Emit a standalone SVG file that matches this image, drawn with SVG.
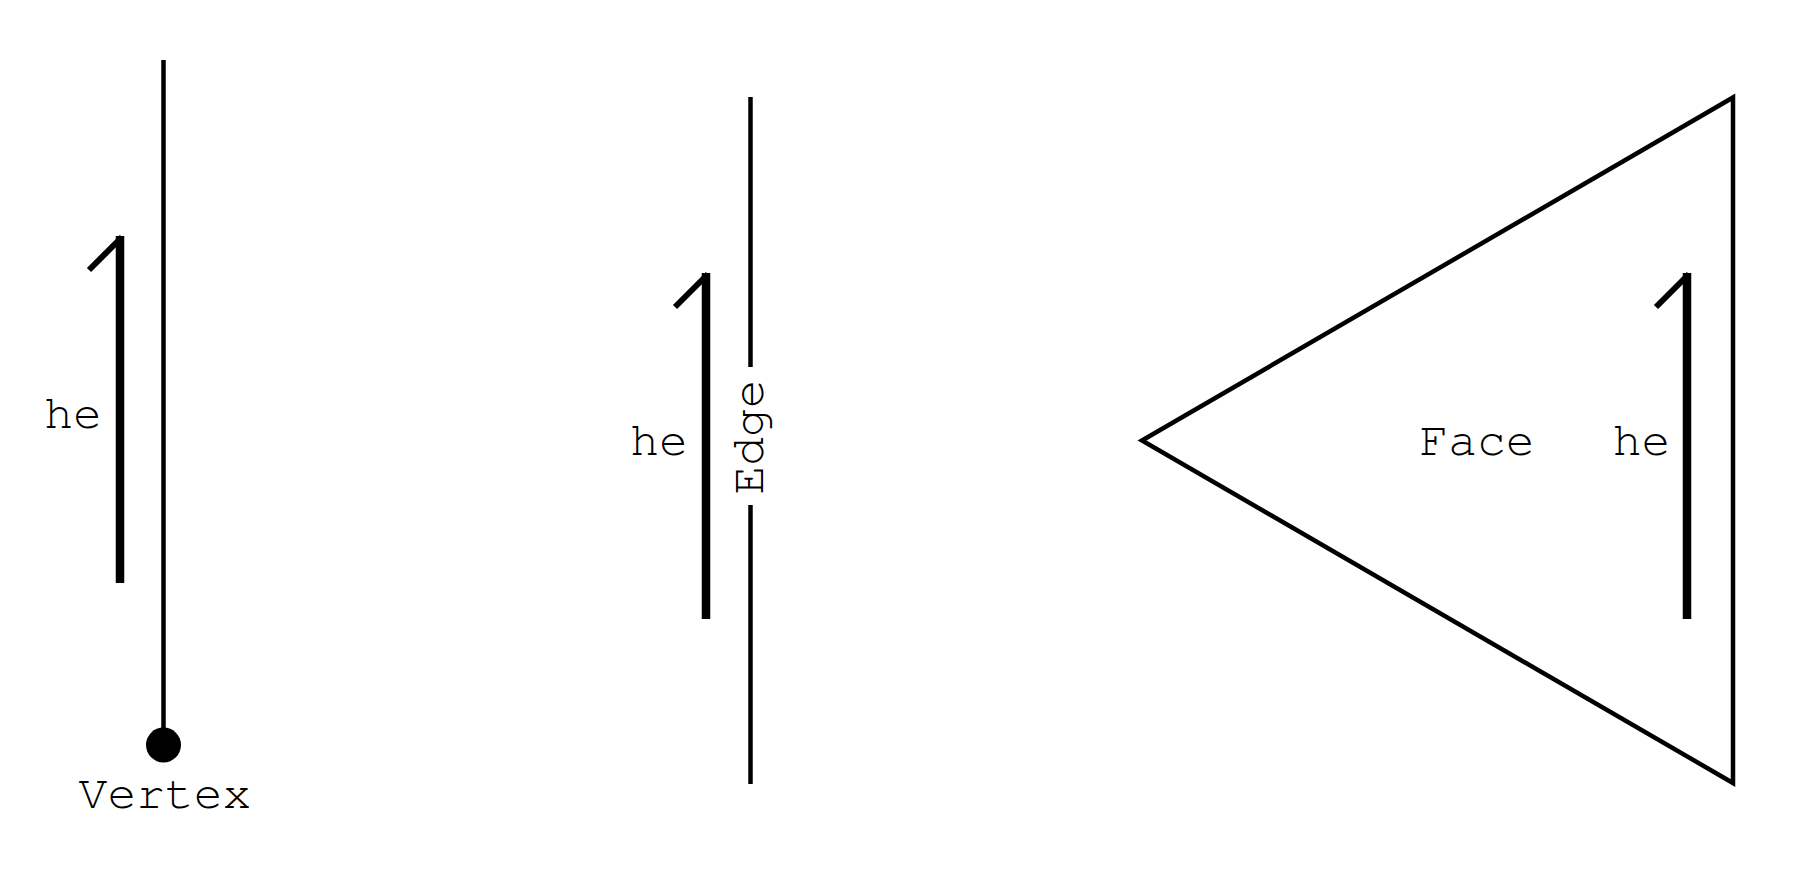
<svg xmlns="http://www.w3.org/2000/svg" width="1807" height="873" viewBox="0 0 1807 873">
<style>
.ln{stroke:#000;stroke-width:4.5;fill:none;stroke-linecap:butt}
.he{stroke:#000;stroke-width:8.5;fill:none}
.barb{stroke:#000;stroke-width:6;fill:none}
.t{font-family:"Nimbus Mono PS","FreeMono","Courier New","Liberation Mono",monospace;font-size:48px;fill:#000}
</style>
<rect width="1807" height="873" fill="#fff"/>
<g id="connectors">
<line class="ln" x1="163.5" y1="60" x2="163.5" y2="745"/>
<line class="ln" x1="750.5" y1="97" x2="750.5" y2="367"/>
<line class="ln" x1="750.5" y1="505" x2="750.5" y2="784"/>
</g>
<g id="vertex">
<circle cx="163.5" cy="745" r="17.5" fill="#000"/>
<text class="t" x="165" y="808" text-anchor="middle">Vertex</text>
</g>
<g id="he1">
<line class="he" x1="120" y1="236" x2="120" y2="583"/>
<polyline class="barb" points="89,270 122,237"/>
<text class="t" x="73" y="428" text-anchor="middle">he</text>
</g>
<g id="edge">
<text class="t" transform="translate(763,437) rotate(-90)" text-anchor="middle">Edge</text>
</g>
<g id="he2">
<line class="he" x1="706" y1="273" x2="706" y2="619"/>
<polyline class="barb" points="675,307 708,274"/>
<text class="t" x="659" y="455" text-anchor="middle">he</text>
</g>
<g id="face">
<polygon class="ln" stroke-linejoin="miter" points="1142,440.5 1733,97.5 1733,783"/>
<text class="t" x="1477" y="455" text-anchor="middle">Face</text>
</g>
<g id="he3">
<line class="he" x1="1687" y1="273" x2="1687" y2="619"/>
<polyline class="barb" points="1656,307 1689,274"/>
<text class="t" x="1641.5" y="455" text-anchor="middle">he</text>
</g>
</svg>
